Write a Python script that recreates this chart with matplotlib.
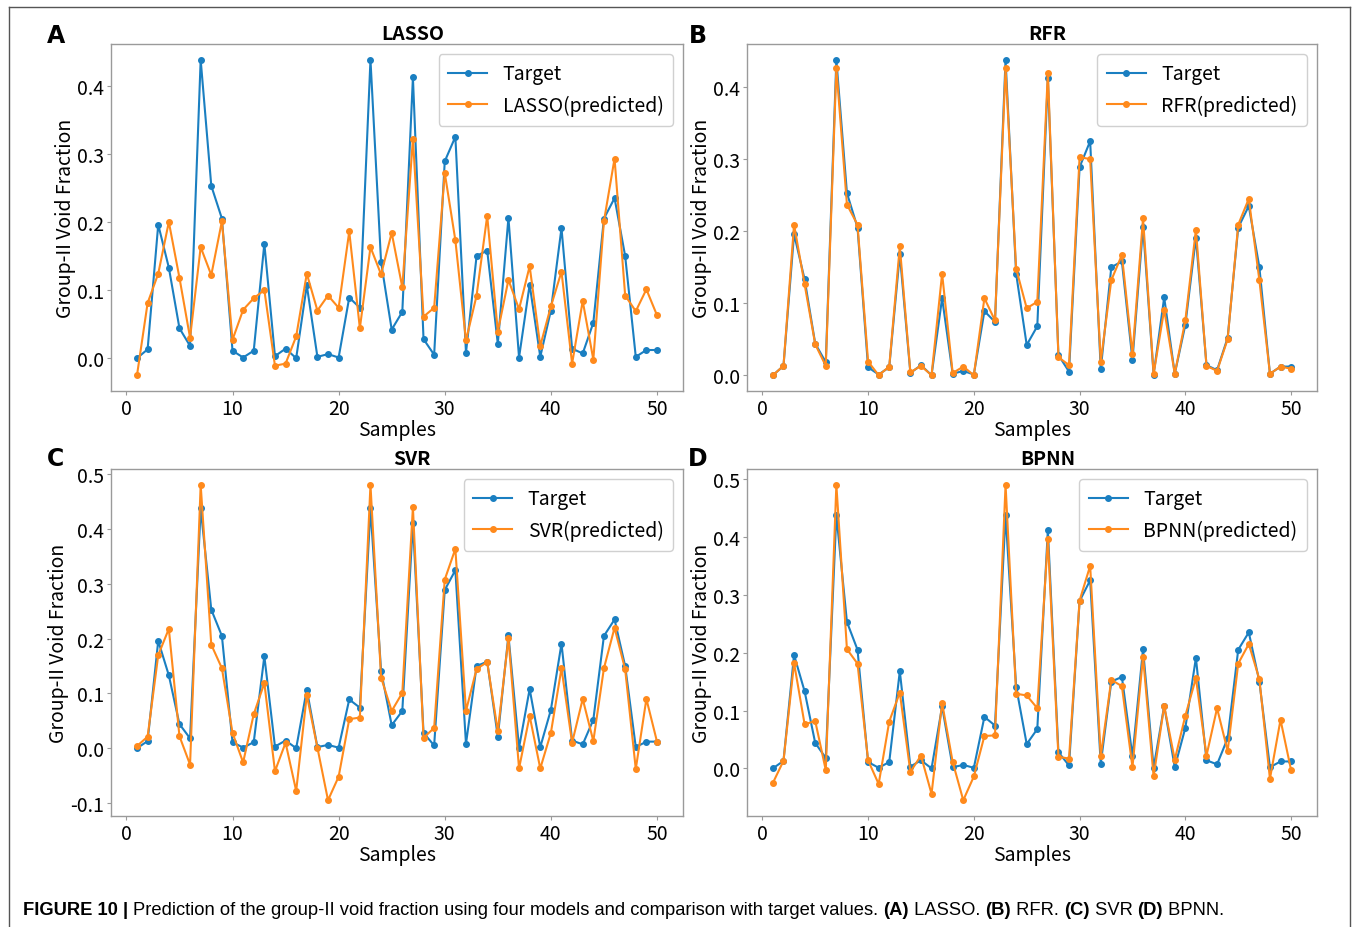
import matplotlib
matplotlib.use('Agg')
import matplotlib.pyplot as plt
from matplotlib.lines import Line2D

plt.rcParams['font.family'] = ['Noto Sans CJK SC', 'DejaVu Sans']
plt.rcParams['axes.unicode_minus'] = False

BLUE = '#1a7fc1'
ORANGE = '#ff8a1c'
SPINE = '#9a9a9a'

# ---------------------------------------------------------------------------
# Data
# ---------------------------------------------------------------------------
samples = list(range(1, 51))

target = [0.000, 0.013, 0.196, 0.133, 0.044, 0.018, 0.438, 0.253, 0.205, 0.011,
          0.001, 0.011, 0.168, 0.003, 0.014, 0.000, 0.107, 0.002, 0.006, 0.001,
          0.089, 0.074, 0.438, 0.141, 0.042, 0.068, 0.412, 0.028, 0.005, 0.289,
          0.325, 0.008, 0.150, 0.158, 0.021, 0.206, 0.001, 0.108, 0.002, 0.070,
          0.191, 0.014, 0.007, 0.052, 0.205, 0.235, 0.150, 0.002, 0.012, 0.012]

lasso = [-0.025, 0.081, 0.124, 0.200, 0.118, 0.030, 0.163, 0.122, 0.201, 0.027,
         0.071, 0.088, 0.100, -0.011, -0.008, 0.032, 0.124, 0.070, 0.092, 0.074,
         0.186, 0.044, 0.163, 0.123, 0.184, 0.104, 0.322, 0.061, 0.074, 0.272,
         0.173, 0.026, 0.092, 0.209, 0.039, 0.115, 0.072, 0.135, 0.018, 0.076,
         0.127, -0.008, 0.084, -0.002, 0.201, 0.293, 0.092, 0.069, 0.101, 0.063]

rfr = [0.000, 0.013, 0.209, 0.126, 0.043, 0.013, 0.426, 0.237, 0.209, 0.019,
       0.000, 0.012, 0.179, 0.004, 0.013, 0.000, 0.141, 0.003, 0.012, 0.000,
       0.107, 0.076, 0.426, 0.148, 0.093, 0.102, 0.420, 0.025, 0.014, 0.303,
       0.300, 0.019, 0.132, 0.167, 0.029, 0.218, 0.002, 0.091, 0.002, 0.076,
       0.202, 0.013, 0.006, 0.050, 0.209, 0.245, 0.132, 0.002, 0.012, 0.009]

svr = [0.004, 0.021, 0.170, 0.218, 0.022, -0.030, 0.481, 0.189, 0.146, 0.028,
       -0.026, 0.062, 0.119, -0.042, 0.010, -0.078, 0.097, 0.001, -0.095, -0.052,
       0.053, 0.056, 0.481, 0.129, 0.068, 0.101, 0.440, 0.019, 0.037, 0.308,
       0.364, 0.068, 0.145, 0.157, 0.031, 0.201, -0.037, 0.059, -0.037, 0.028,
       0.146, 0.010, 0.090, 0.013, 0.146, 0.220, 0.144, -0.038, 0.090, 0.012]

bpnn = [-0.025, 0.013, 0.182, 0.076, 0.082, -0.003, 0.490, 0.206, 0.181, 0.014,
        -0.027, 0.081, 0.131, -0.006, 0.022, -0.044, 0.113, 0.011, -0.055, -0.014,
        0.056, 0.057, 0.490, 0.129, 0.126, 0.104, 0.396, 0.020, 0.017, 0.290,
        0.350, 0.021, 0.153, 0.142, 0.002, 0.193, -0.014, 0.108, 0.015, 0.091,
        0.156, 0.022, 0.104, 0.030, 0.181, 0.215, 0.154, -0.018, 0.084, -0.003]

models = ['LASSO', 'RFR', 'SVR', 'BPNN']
letters = ['A', 'B', 'C', 'D']
predictions = [lasso, rfr, svr, bpnn]

# ---------------------------------------------------------------------------
# Layout (pixel boxes measured from the reference, 1357 x 928)
# ---------------------------------------------------------------------------
W, H = 1357, 928
fig = plt.figure(figsize=(W / 100, H / 100), dpi=100, facecolor='white')

boxes = [(111, 45, 683, 392), (747, 45, 1317, 392),
         (111, 470, 683, 817), (747, 470, 1317, 817)]
letter_pos = [(56, 36), (698, 36), (56, 459), (698, 459)]

for box, name, letter, lpos, pred in zip(boxes, models, letters, letter_pos, predictions):
    x0, y0, x1, y1 = box
    ax = fig.add_axes([x0 / W, 1 - y1 / H, (x1 - x0) / W, (y1 - y0) / H])
    ax.plot(samples, target, '-o', color=BLUE, lw=1.5, ms=4, label='Target')
    ax.plot(samples, pred, '-o', color=ORANGE, lw=1.5, ms=4, label=f'{name}(predicted)')
    ax.set_xticks([0, 10, 20, 30, 40, 50])
    ax.set_xlabel('Samples', fontsize=14, labelpad=0)
    ax.set_ylabel('Group-II Void Fraction', fontsize=14, labelpad=1)
    ax.tick_params(labelsize=14, length=3, width=0.8, color=SPINE, pad=2)
    for sp in ax.spines.values():
        sp.set_color(SPINE)
        sp.set_linewidth(1.0)
    ax.text(0.527, 1.004, name, transform=ax.transAxes, ha='center', va='bottom',
            fontsize=14, fontweight='bold')
    ax.legend(loc='upper right', fontsize=14, handlelength=2.0, borderpad=0.5,
              labelspacing=0.55, numpoints=1, edgecolor='#d0d0d0', framealpha=1)
    fig.text(lpos[0] / W, 1 - lpos[1] / H, letter, ha='center', va='center',
             fontsize=17, fontweight='bold', family='DejaVu Sans')

# outer frame (open at the bottom)
fx0, fx1, fy = 9 / W, 1350 / W, 1 - 8 / H
for xs, ys in [([fx0, fx0], [0, fy]), ([fx0, fx1], [fy, fy]), ([fx1, fx1], [fy, 0])]:
    fig.add_artist(Line2D(xs, ys, transform=fig.transFigure, color='#555555', lw=1.0))

# caption with mixed bold / regular runs
caption = [('FIGURE 10 | ', 'bold'),
           ('Prediction of the group-II void fraction using four models and '
            'comparison with target values. ', 'normal'),
           ('(A)', 'bold'), (' LASSO. ', 'normal'),
           ('(B)', 'bold'), (' RFR. ', 'normal'),
           ('(C)', 'bold'), (' SVR ', 'normal'),
           ('(D)', 'bold'), (' BPNN.', 'normal')]
renderer = fig.canvas.get_renderer()
x = 23
for txt, weight in caption:
    t = fig.text(x / W, 1 - 911 / H, txt, ha='left', va='center', fontsize=13.2,
                 fontweight=weight, family='Liberation Sans')
    x += t.get_window_extent(renderer).width

fig.savefig('out.png', dpi=100, facecolor='white')
